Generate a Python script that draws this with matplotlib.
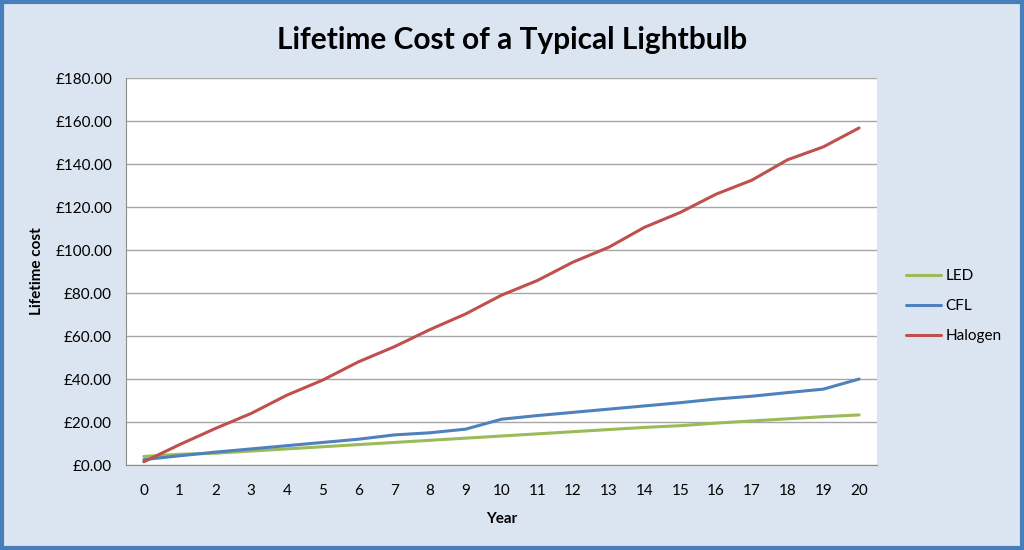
import matplotlib.pyplot as plt
from matplotlib.patches import Rectangle
from matplotlib.ticker import FuncFormatter, MultipleLocator

plt.rcParams.update({
    'font.family': ['Lato', 'DejaVu Sans'],
    'font.size': 11,
    'text.color': '#000000',
})

years = list(range(0, 21))
led = [4, 5, 5.5, 6.5, 7.5, 8.5, 9.5, 10.5, 11.5, 12.5, 13.5,
       14.5, 15.5, 16.5, 17.5, 18.3, 19.5, 20.5, 21.5, 22.5, 23.3]
cfl = [2.5, 4.3, 6, 7.5, 9, 10.5, 12, 14, 15, 16.7, 21.3,
       23, 24.5, 26, 27.5, 29, 30.7, 32, 33.7, 35.3, 40]
halogen = [1.5, 9.5, 17, 24, 32.5, 39.5, 48, 55, 63, 70.3, 79,
           85.8, 94.4, 101.3, 110.6, 117.5, 126, 132.5, 142, 148, 156.8]

series = [('LED', led, '#9bbb59'), ('CFL', cfl, '#4f81bd'), ('Halogen', halogen, '#c0504d')]

fig = plt.figure(figsize=(10.24, 5.5), dpi=100, facecolor='#dbe5f1')
fig.patches.append(Rectangle((0.0015, 0.003), 0.997, 0.994, transform=fig.transFigure,
                             fill=False, edgecolor='#4a7ebb', linewidth=3))

ax = fig.add_axes([0.123, 0.1545, 0.7334, 0.7035])
ax.set_facecolor('white')
for name, vals, col in series:
    ax.plot(years, vals, color=col, linewidth=2.2, label=name, solid_capstyle='round')

ax.set_xlim(-0.5, 20.5)
ax.set_ylim(0, 180)
ax.yaxis.set_major_locator(MultipleLocator(20))
ax.yaxis.set_major_formatter(FuncFormatter(lambda v, p: f'£{v:.2f}'))
ax.set_xticks(years)
ax.grid(axis='y', color='#a6a6a6', linewidth=1)
ax.set_axisbelow(True)
for s in ['top', 'right']:
    ax.spines[s].set_visible(False)
for s in ['left', 'bottom']:
    ax.spines[s].set_color('#8c8c8c')
ax.tick_params(axis='y', length=0, pad=10, labelsize=11)
ax.tick_params(axis='x', length=0, pad=14, labelsize=11)

ax.set_xlabel('Year', fontweight='bold', fontsize=11, labelpad=10)
ax.set_ylabel('Lifetime cost', fontweight='bold', fontsize=11, labelpad=8)

fig.text(0.5, 0.927, 'Lifetime Cost of a Typical Lightbulb', ha='center', va='center',
         fontsize=21.5, fontweight='bold')

ax.legend(loc='center left', bbox_to_anchor=(1.02, 0.41), frameon=False,
          handlelength=2.3, labelspacing=1.05, fontsize=11, handletextpad=0.3)

fig.savefig('out.png', dpi=100, facecolor=fig.get_facecolor())
